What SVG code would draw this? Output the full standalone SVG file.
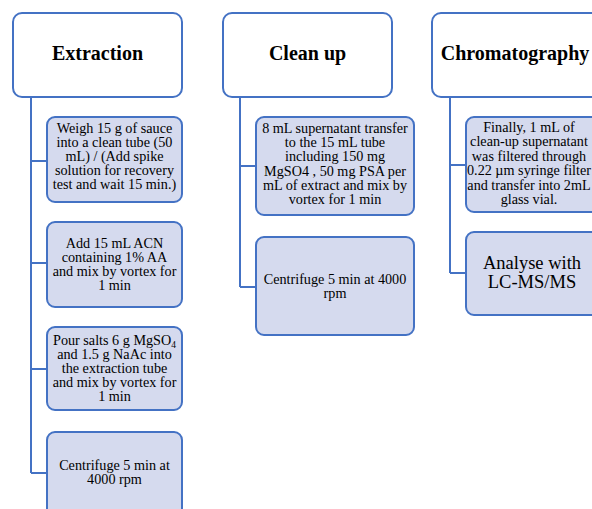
<svg xmlns="http://www.w3.org/2000/svg" width="592" height="509" viewBox="0 0 592 509">
<style>
.hdr{fill:#ffffff;stroke:#4472c4;stroke-width:2}
.box{fill:#d5daee;stroke:#4472c4;stroke-width:2}
text{font-family:'Liberation Serif','Times New Roman',Tinos,'DejaVu Serif',serif;fill:#000;text-anchor:middle}
.ht{font-weight:bold;font-size:20px}
.t{font-size:14.2px}
.tl{font-size:18.5px}
.c{fill:none;stroke:#4472c4;stroke-width:2}
</style>
<rect width="592" height="509" fill="#ffffff"/>
<g id="connectors">
<path class="c" d="M31,97 V473 M31,161 H47 M31,263 H47 M31,369 H47 M31,473 H47"/>
<path class="c" d="M240,97 V287 M240,166 H256 M240,287 H256"/>
<path class="c" d="M450,97 V273 M450,165 H466 M450,273 H466"/>
</g>
<g id="extraction">
<rect class="hdr" x="13" y="13" width="169" height="84" rx="9"/>
<text class="ht" x="97.5" y="60">Extraction</text>
</g>
<g id="weigh">
<rect class="box" x="47" y="117" width="135" height="85" rx="8"/>
<text class="t" x="114.5" y="133">Weigh 15 g of sauce<tspan x="114.5" dy="14">into a clean tube (50</tspan><tspan x="114.5" dy="14">mL) / (Add spike</tspan><tspan x="114.5" dy="14">solution for recovery</tspan><tspan x="114.5" dy="14">test and wait 15 min.)</tspan></text>
</g>
<g id="add">
<rect class="box" x="47" y="222" width="135" height="85" rx="8"/>
<text class="t" x="114.5" y="247.5">Add 15 mL ACN<tspan x="114.5" dy="14">containing 1% AA</tspan><tspan x="114.5" dy="14">and mix by vortex for</tspan><tspan x="114.5" dy="14">1 min</tspan></text>
</g>
<g id="pour">
<rect class="box" x="47" y="327" width="135" height="83" rx="8"/>
<text class="t" x="114.5" y="344.5">Pour salts 6 g MgSO<tspan font-size="9.5" dy="3">4</tspan><tspan x="114.5" dy="11">and 1.5 g NaAc into</tspan><tspan x="114.5" dy="14">the extraction tube</tspan><tspan x="114.5" dy="14">and mix by vortex for</tspan><tspan x="114.5" dy="14">1 min</tspan></text>
</g>
<g id="centrifuge1">
<rect class="box" x="47" y="432" width="135" height="90" rx="8"/>
<text class="t" x="114.5" y="470">Centrifuge 5 min at<tspan x="114.5" dy="14">4000 rpm</tspan></text>
</g>
<g id="cleanup">
<rect class="hdr" x="223" y="13" width="169" height="84" rx="9"/>
<text class="ht" x="307.5" y="60">Clean up</text>
</g>
<g id="supernatant">
<rect class="box" x="256" y="117" width="158" height="98" rx="8"/>
<text class="t" x="335" y="133">8 mL supernatant transfer<tspan x="335" dy="14.2">to the 15 mL tube</tspan><tspan x="335" dy="14.2">including  150 mg</tspan><tspan x="335" dy="14.2">MgSO4 , 50 mg PSA per</tspan><tspan x="335" dy="14.2">mL of extract and mix by</tspan><tspan x="335" dy="14.2">vortex for 1 min</tspan></text>
</g>
<g id="centrifuge2">
<rect class="box" x="256" y="237" width="158" height="98" rx="8"/>
<text class="t" x="335" y="283.5">Centrifuge 5 min at 4000<tspan x="335" dy="14.5">rpm</tspan></text>
</g>
<g id="chromatography">
<rect class="hdr" x="432" y="13" width="169" height="84" rx="9"/>
<text class="ht" x="515" y="60">Chromatography</text>
</g>
<g id="filter">
<rect class="box" x="466" y="117" width="140" height="95" rx="8"/>
<text class="t" x="529" y="131.5">Finally, 1 mL of<tspan x="529" dy="14.5">clean-up supernatant</tspan><tspan x="529" dy="14.5">was filtered through</tspan><tspan x="529" dy="14.5">0.22 µm syringe filter</tspan><tspan x="529" dy="14.5">and transfer into 2mL</tspan><tspan x="529" dy="14.5">glass vial.</tspan></text>
</g>
<g id="analyse">
<rect class="box" x="466" y="232" width="140" height="83" rx="8"/>
<text class="tl" x="532" y="268.5">Analyse with<tspan x="532" dy="19.5">LC-MS/MS</tspan></text>
</g>
</svg>
